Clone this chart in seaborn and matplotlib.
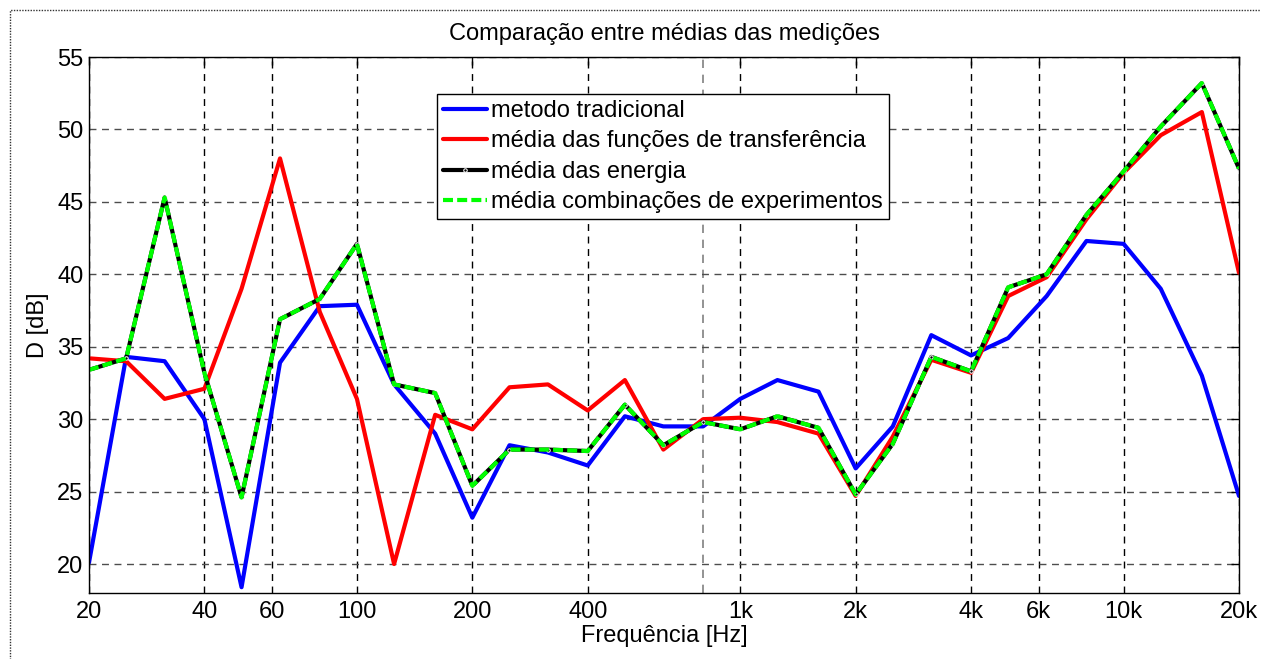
import numpy as np
import pandas as pd
import matplotlib
matplotlib.use("Agg")
import matplotlib.pyplot as plt
import matplotlib.ticker as mticker
from matplotlib.patches import Rectangle
import seaborn as sns

# third-octave band centre frequencies (Hz)
freqs = [20, 25, 31.5, 40, 50, 63, 80, 100, 125, 160, 200, 250, 315, 400, 500,
         630, 800, 1000, 1250, 1600, 2000, 2500, 3150, 4000, 5000, 6300, 8000,
         10000, 12500, 16000, 20000]

metodo_tradicional = [20.1, 34.3, 34.0, 30.0, 18.4, 33.9, 37.8, 37.9, 32.4, 29.0, 23.2,
                      28.2, 27.7, 26.8, 30.2, 29.5, 29.5, 31.4, 32.7, 31.9, 26.6,
                      29.5, 35.8, 34.4, 35.6, 38.5, 42.3, 42.1, 39.0, 33.0, 24.7]

media_funcoes = [34.2, 34.0, 31.4, 32.1, 39.0, 48.0, 37.4, 31.4, 20.0, 30.3, 29.3,
                 32.2, 32.4, 30.6, 32.7, 27.9, 30.0, 30.1, 29.8, 29.0, 24.7,
                 28.8, 34.1, 33.2, 38.5, 39.8, 43.8, 47.0, 49.6, 51.2, 40.1]

media_energia = [33.4, 34.2, 45.3, 33.2, 24.6, 36.9, 38.3, 42.1, 32.4, 31.8, 25.4,
                 27.9, 27.9, 27.8, 31.0, 28.2, 29.8, 29.3, 30.2, 29.4, 24.8,
                 28.3, 34.3, 33.3, 39.1, 40.0, 44.1, 47.1, 50.2, 53.2, 47.3]

media_combinacoes = list(media_energia)

labels = ["metodo tradicional",
          "média das funções de transferência",
          "média das energia",
          "média combinações de experimentos"]

x_ticks = [20, 40, 60, 100, 200, 400, 1000, 2000, 4000, 6000, 10000, 20000]
x_ticklabels = ["20", "40", "60", "100", "200", "400", "1k", "2k", "4k", "6k", "10k", "20k"]
y_ticks = [20, 25, 30, 35, 40, 45, 50, 55]

df = pd.DataFrame({"f": freqs,
                   labels[0]: metodo_tradicional,
                   labels[1]: media_funcoes,
                   labels[2]: media_energia,
                   labels[3]: media_combinacoes})

sns.set_theme(style="white")
plt.rcParams["font.family"] = ["Liberation Sans", "DejaVu Sans"]
plt.rcParams["text.color"] = "black"
plt.rcParams["axes.labelcolor"] = "black"
plt.rcParams["xtick.color"] = "black"
plt.rcParams["ytick.color"] = "black"

W, H = 1261, 659
fig = plt.figure(figsize=(W / 100, H / 100), dpi=100)
ax = fig.add_axes([89 / W, 1 - 593 / H, (1239 - 89) / W, (593 - 57) / H])

fs = 17

sns.lineplot(data=df, x="f", y=labels[0], ax=ax, color="#0000ff", lw=3, label=labels[0])
sns.lineplot(data=df, x="f", y=labels[1], ax=ax, color="#ff0000", lw=3, label=labels[1])
sns.lineplot(data=df, x="f", y=labels[2], ax=ax, color="black", lw=3, marker=".",
             markersize=5, label=labels[2])
sns.lineplot(data=df, x="f", y=labels[3], ax=ax, color="#00ff00", lw=3, dashes=False,
             label=labels[3])
ax.lines[-1].set_linestyle((0, (2.4, 1.0)))

ax.set_xscale("log")
ax.set_xlim(20, 20000)
ax.set_ylim(18, 55)
ax.set_xticks(x_ticks)
ax.set_xticklabels(x_ticklabels)
ax.xaxis.set_minor_locator(mticker.FixedLocator([800]))
ax.xaxis.set_minor_formatter(mticker.NullFormatter())
ax.set_yticks(y_ticks)

ax.tick_params(axis="both", which="major", direction="in", length=6, width=1,
               labelsize=fs, top=True, right=True, colors="black")
ax.tick_params(axis="x", which="major", pad=6)
ax.tick_params(axis="y", which="major", pad=4)
ax.tick_params(axis="x", which="minor", direction="in", length=0)

ax.grid(True, axis="x", which="major", color="black", linestyle=(0, (5, 4)), lw=1)
ax.grid(True, axis="x", which="minor", color="0.5", linestyle=(0, (5, 4)), lw=1.2)
ax.grid(True, axis="y", which="major", color="0.3", linestyle=(0, (5, 4)), lw=1)

for s in ax.spines.values():
    s.set_color("black")
    s.set_linewidth(1)

ax.set_xlabel("Frequência [Hz]", fontsize=fs, labelpad=1)
ax.set_ylabel("D [dB]", fontsize=fs, labelpad=6)
ax.set_title("Comparação entre médias das medições", fontsize=fs, pad=12)

leg = ax.legend(loc="upper left", bbox_to_anchor=((437 - 89) / 1150, (593 - 94) / 536),
                fontsize=fs, frameon=True, fancybox=False, framealpha=1,
                edgecolor="black", handlelength=1.85, handletextpad=0.2,
                labelspacing=0.36, borderpad=0.25, borderaxespad=0)
leg.get_frame().set_linewidth(1)
for lh in leg.get_lines():
    lh.set_linewidth(3)

fig.add_artist(Rectangle((10 / W, -0.01), 1.05, 1 - 10 / H + 0.01,
                         transform=fig.transFigure, fill=False, edgecolor="0.2",
                         lw=1, linestyle=(0, (1, 1))))

fig.savefig("out.png", dpi=100)
